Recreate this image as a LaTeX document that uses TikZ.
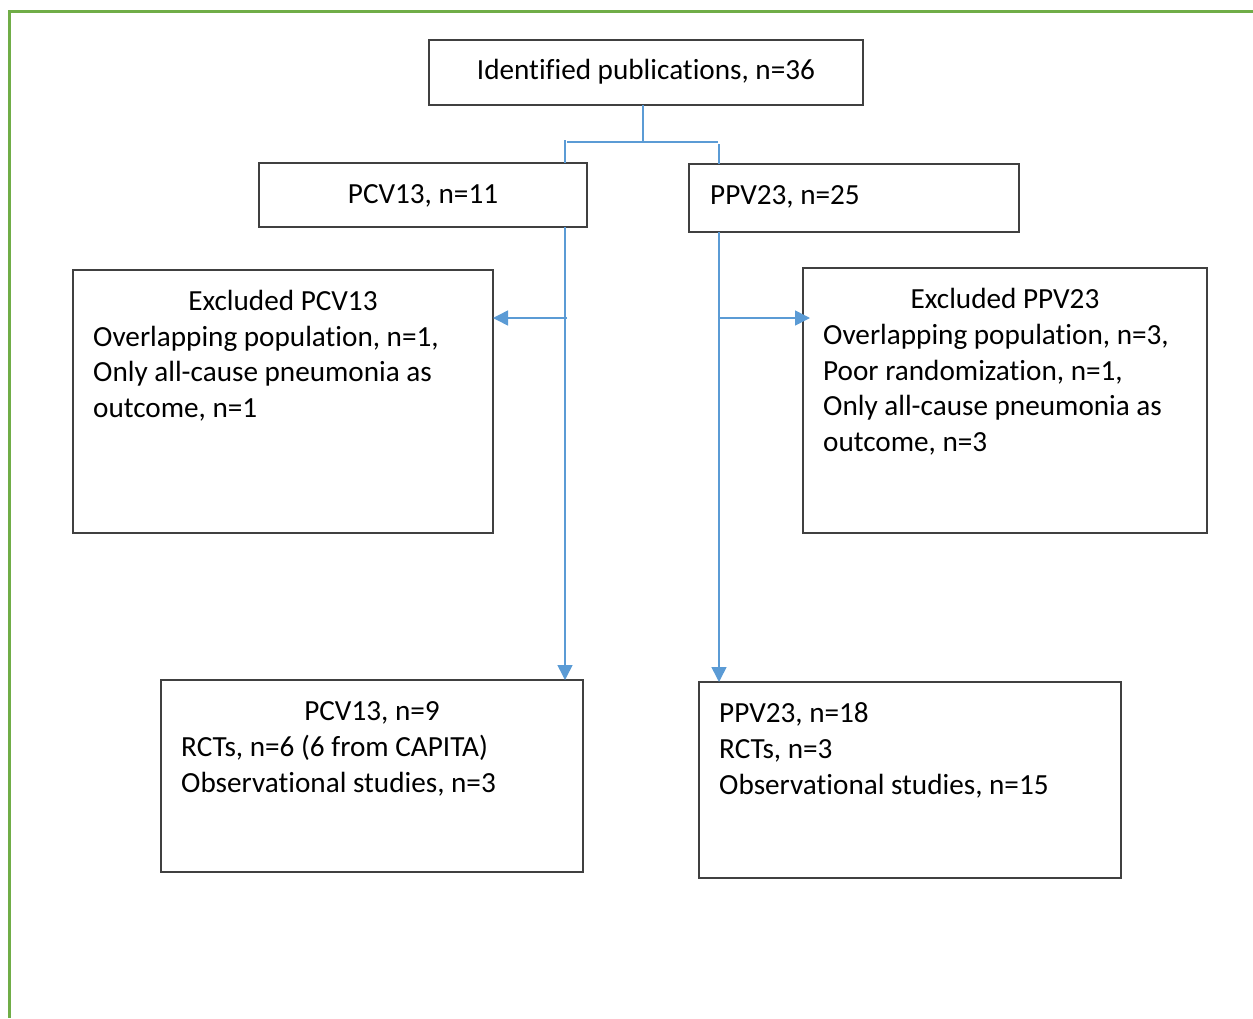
\documentclass[tikz,border=0pt]{standalone}
\usepackage{fontspec}
\setmainfont{Carlito}[Ligatures=NoCommon]
\usetikzlibrary{arrows.meta}
\definecolor{boxline}{HTML}{404040}
\definecolor{connblue}{HTML}{5B9BD5}
\definecolor{framegreen}{HTML}{70AD47}
\begin{document}
\begin{tikzpicture}[x=1pt,y=-1pt,
  box/.style={draw=boxline,line width=1.2pt,inner sep=0pt,outer sep=0pt},
  txt/.style={inner sep=0pt,anchor=base,font=\fontsize{29.2}{36}\selectfont},
  txtl/.style={txt,anchor=base west},
  conn/.style={draw=connblue,line width=1.5pt},
  arr/.style={conn,-{Triangle[length=15pt,width=15pt]}}]
\useasboundingbox (0,0) rectangle (1253,1018);
\draw[framegreen,line width=3pt] (1253,11) -- (9,11) -- (9,1018);
% boxes
\node[box,minimum width=434pt,minimum height=65pt] (top) at (646,72.5) {};
\node[box,minimum width=328pt,minimum height=64pt] (pcvA) at (423,195) {};
\node[box,minimum width=330pt,minimum height=68pt] (ppvA) at (854,198) {};
\node[box,minimum width=420pt,minimum height=263pt] (exA) at (283,401.5) {};
\node[box,minimum width=404pt,minimum height=265pt] (exB) at (1005,400.5) {};
\node[box,minimum width=422pt,minimum height=192pt] (pcvB) at (372,776) {};
\node[box,minimum width=422pt,minimum height=196pt] (ppvB) at (910,780) {};
% texts
\node[txt] (t1) at (646,79) {Identified publications, n=36};
\node[txt] (t2) at (423,203) {PCV13, n=11};
\node[txtl] (t3) at (710,204) {PPV23, n=25};
\node[txt] (t4) at (283,310) {Excluded PCV13};
\node[txtl] (t5) at (93,346) {Overlapping population, n=1,};
\node[txtl] (t6) at (93,381.5) {Only all-cause pneumonia as};
\node[txtl] (t7) at (93,417) {outcome, n=1};
\node[txt] (t8) at (1005,308) {Excluded PPV23};
\node[txtl] (t9) at (823,344) {Overlapping population, n=3,};
\node[txtl] (t10) at (823,380) {Poor randomization, n=1,};
\node[txtl] (t11) at (823,415) {Only all-cause pneumonia as};
\node[txtl] (t12) at (823,451) {outcome, n=3};
\node[txt] (t13) at (372,720) {PCV13, n=9};
\node[txtl] (t14) at (181,756) {RCTs, n=6 (6 from CAPITA)};
\node[txtl] (t15) at (181,792) {Observational studies, n=3};
\node[txtl] (t16) at (719,722) {PPV23, n=18};
\node[txtl] (t17) at (719,758) {RCTs, n=3};
\node[txtl] (t18) at (719,794) {Observational studies, n=15};
% connector coordinates
\coordinate (j) at (643,142);
\coordinate (hl) at (567,142);
\coordinate (hr) at (718,142);
\coordinate (cl) at (565,140);
\coordinate (cr) at (719,144);
\coordinate (bl) at (567,318);
\coordinate (br) at (719,318);
\coordinate (brend) at (810,318);
% connectors
\draw[conn] (top.south -| j) -- (j);
\draw[conn] (hl) -- (hr);
\draw[conn] (cl) -- (cl |- pcvA.north);
\draw[conn] (cr) -- (cr |- ppvA.north);
\draw[arr] (cl |- pcvA.south) -- (cl |- pcvB.north);
\draw[arr] (cr |- ppvA.south) -- (cr |- ppvB.north);
\draw[arr] (bl) -- (bl -| exA.east);
\draw[arr] (br) -- (brend);
\end{tikzpicture}
\end{document}
